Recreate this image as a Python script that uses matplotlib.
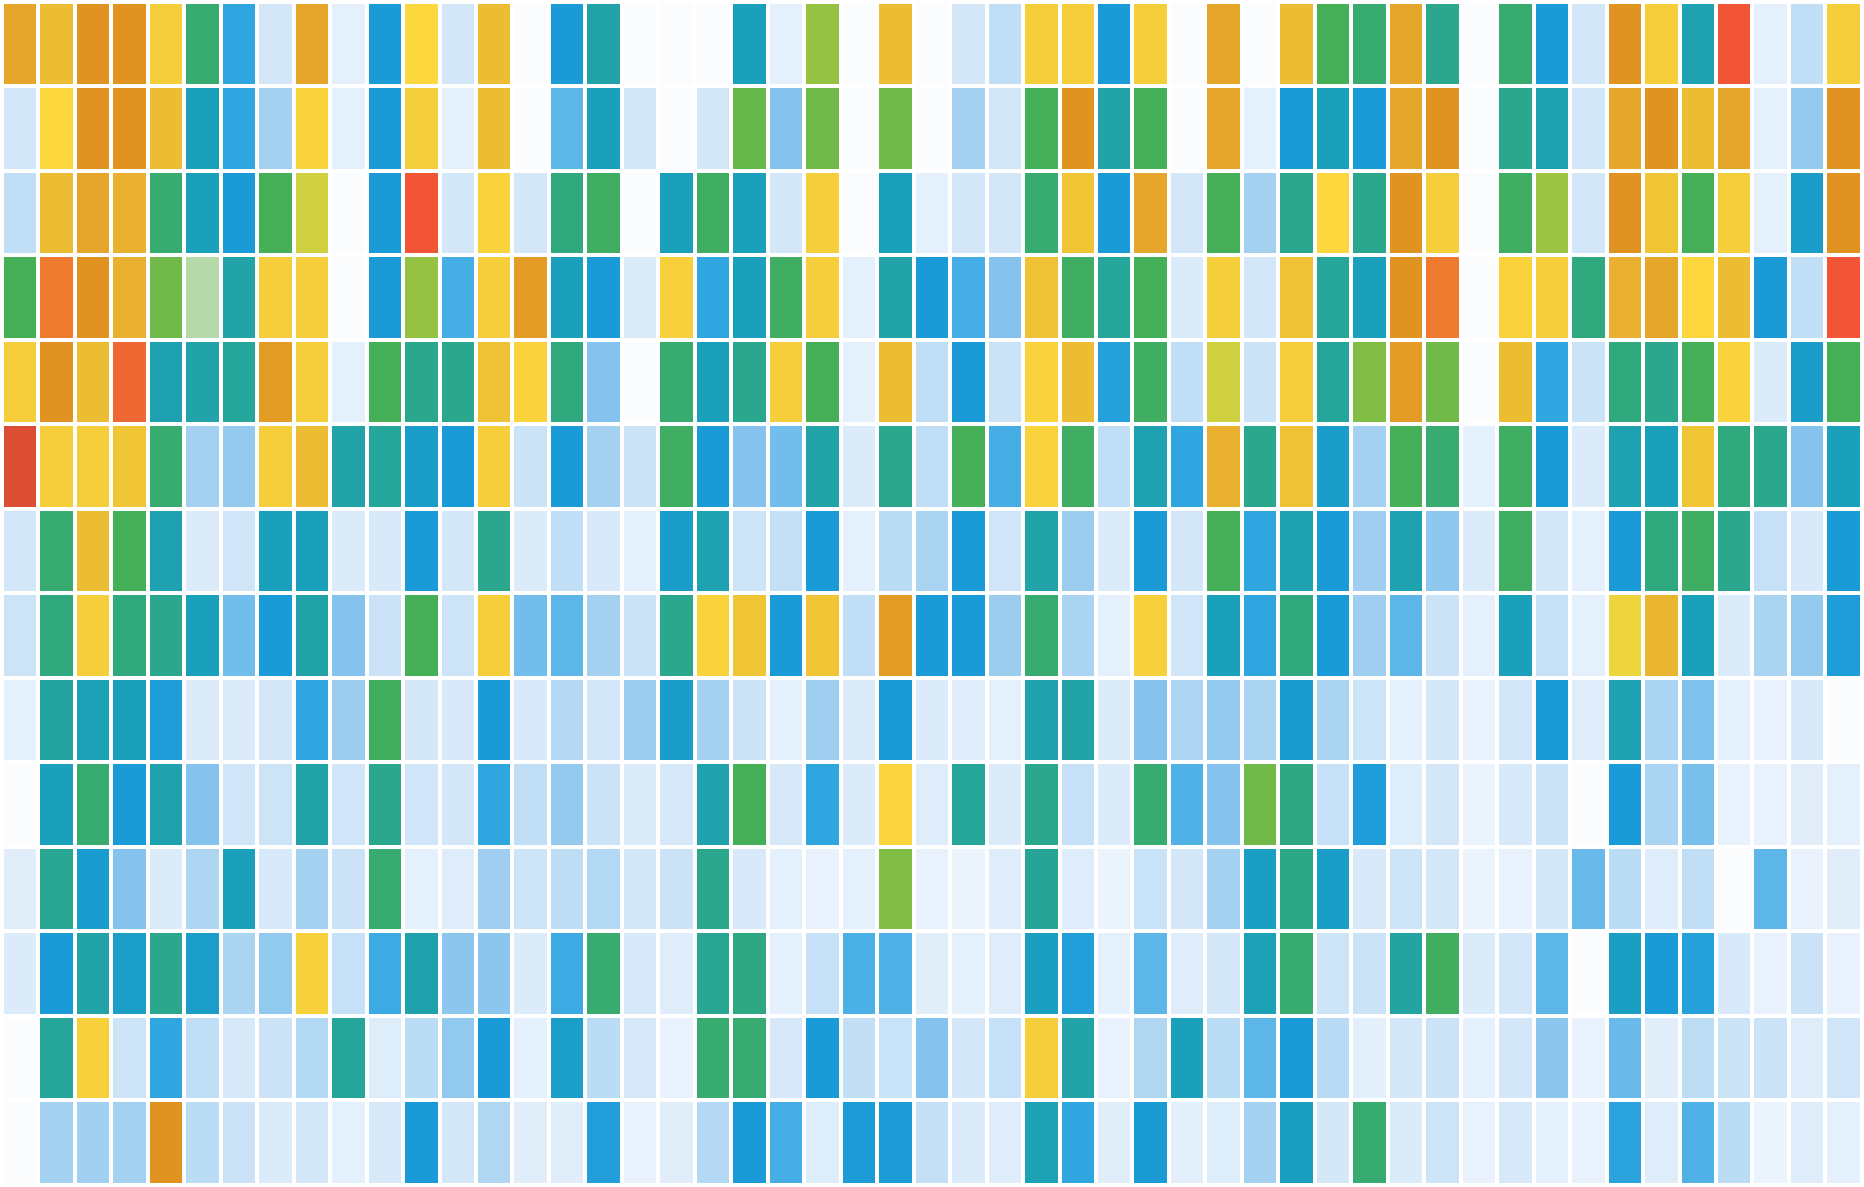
import numpy as np
import matplotlib
matplotlib.use("Agg")
import matplotlib.pyplot as plt
from matplotlib.colors import LinearSegmentedColormap

row01 = [19,18,20,20,17,12,7,2,19,1,8,16,2,18,0,8,10, 0,0,0,9,1,14.4,0,18,0,2,3,17,17,8,17,0,19, 0,18,13,12,19,11,0,12,8,2,20,17,9.5,22,1,3,17]
row02 = [2,16,20,20,18,9,7,4,16.5,1,8,17,1,18,0,6,9, 2,0,2,13.8,5,14,0,14,0,4,2,13,20,10,13,0,19, 1,8,9,8,19,20,0,11,9.5,2,19,20,18,19,1,4.5,20]
row03 = [3,18,19,18.5,12,9,8,13,15,0,8,22,2,16.5,2,11.5,12.5, 0,9,12.5,9,2,17,0,9,1,2,2,12,17.5,8,19,2,13, 4,11,16,11,20,17,0,12.5,14.5,2,20,17.5,13,17,1,8.5,20]
row04 = [13,21,20,18.5,14,24,10,17,17,0,8,14.4,6.5,17,19.5,9,8, 1.5,16.7,7,9,12.5,17,1,10,8,6.5,5,17.7,12.5,10.5,13,1.5,17, 2,17.7,10.5,9,20,21,0,16.5,17,11.5,18.5,19,16,18,8,3,22]
row05 = [17,20,18,21.5,9.5,10,10.5,19.5,17,1,13,11,11,17.7,16.5,11.5,5, 0,12,9,11,17,13,1,18,3,8,2.5,16.5,18,7.5,12.5,3,15, 2.5,17,10.5,14.2,19.5,14,0,18,7,2.5,11.5,11,13,16.5,1.5,8.5,13]
row06 = [23,17,17,17.5,12,4,4.5,17,18,10,10.5,8.5,8,17,2.5,8,4, 2.5,12.5,8,5,5.5,10,1.5,11,3,13,6.5,16.5,12.5,3,9.5,7,18.5, 11,17.7,8.5,4,13,12,1,12.5,8,1.5,9.5,9,17.5,11.5,11,5,9]
row07 = [2,12,18,13,9.5,1.5,2.2,9,9,1.5,1.7,8,2,11,1.5,3,1.7, 1,8.5,9.5,2.3,2.8,8,1,3.2,3.8,8,2.2,10,4.3,1.5,8,2,13, 7,9.5,8,4.2,9.5,4.7,1.5,12.5,2,1,8,11.5,12.5,11,2.7,1.7,8]
row08 = [2.3,11.5,17,11.5,11,9,5.5,8,10,5,2.4,13,2.3,17,5.5,6,4, 2.5,11,16.5,17.5,8,17.5,3,19.5,8,8,4.3,12,3.8,1,16.8,2.2,9, 7,11.5,8,4.2,6,2.4,1,9,2.7,1,15.7,18.3,9,1.5,3.8,4.5,7.8]
row09 = [1,10.3,9.3,9,7.8,1.5,1.5,2,7,4.3,12.7,2,1.7,8,1.7,3.4,2, 4.3,8.5,4,2.5,1,4.2,1.5,8,1.5,1.3,1,9.7,10,1.5,5,3.7,4.5, 3.8,8.3,3.8,2.3,1,2,0.8,2,8,1.3,9.5,3.8,5.2,1,0.8,1.7,0]
row10 = [0,9,12,8,9.7,5,2.2,2.3,10,2.2,11,2.2,2,7,3,4.5,2.4, 1.5,1.8,9.7,13,1.8,7,1.5,16.3,1.3,10.5,1.5,11,2.7,1.5,12,6.3,5, 14,11.3,2.7,7.8,1.4,2,0.7,1.7,2.5,0,8,3.8,5.3,0.8,0.8,1.2,1]
row11 = [1.2,10.8,8.3,5,1.5,3.7,9,1.7,4,2.4,12,1,1.3,4.2,2.3,3.1,3.5, 2,2.4,11,1.7,1,0.8,1,14.2,0.8,0.7,1.3,10.6,1.3,0.7,2.6,2,4, 8.7,11.2,8.5,1.7,2.3,2,0.7,0.8,2,5.7,3.2,1.3,3,0,6,0.8,1.2]
row12 = [1.5,8,10,8.6,11,8.6,3.8,4.6,16.8,2.7,6.7,9.8,4.8,4.8,1.5,6.7,12, 1.8,1.3,10.8,11.3,1,2.7,6.4,6.3,1.2,1,1.3,8.8,7.6,1,6,1.3,2, 9.3,12,2.3,2.5,10.3,12.7,1.6,2,6,0,8.7,8,7.5,1.7,0.8,2.4,0.8]
row13 = [0,10.5,16.7,2.3,7,3,1.8,2.4,3.5,10.5,1.4,3.2,4.6,8,1,8.6,3.2, 1.8,0.8,12,12,1.8,8,2.9,2.6,5,2,2.7,17,10,0.8,3.6,9,3.2, 6,8,3.3,1.1,2,2.4,1,2,4.8,0.8,5.7,1.2,3.1,2.5,2.4,1.3,2.2]
row14 = [0,4,4.1,4,20,3.2,2.4,1.5,2,1,1.8,8,2,3.6,1.2,1.2,7.6, 0.8,1.2,3.4,8,6.5,1.4,7.9,7.9,2.8,1.5,1.3,9.4,7,1.2,8.1,1.1,1.4, 4,8.8,1.9,12,1.6,2.3,0.8,1.8,1,0.8,7.2,1.3,6.3,3.2,0.7,1.3,1]

rows = [row01,row02,row03,row04,row05,row06,row07,row08,row09,row10,row11,row12,row13,row14]
data = np.array(rows, dtype=float)

stops = ["#fbfcfe","#e4f0fb","#d3e7f8","#c0def6","#a5d1f0","#85c3ee","#5db6e8","#2fa6e0",
         "#1a9ad6","#1ba0bc","#21a3a8","#2aa78c","#38ab70","#45b057","#70b948","#cdd03f",
         "#fcd73e","#f5cf3b","#ecbd33","#e6a62b","#e19322","#ed7b2d","#f15536","#dc4c32","#b5d9a8"]
cmap = LinearSegmentedColormap.from_list("heat", [(i/24, c) for i, c in enumerate(stops)], N=1024)

W, H = 1865, 1187
fig = plt.figure(figsize=(W/100, H/100), dpi=100, facecolor="white")
x0, x1, y0, y1 = 1.9, 1861.9, 1.6, 1184.6
ax = fig.add_axes([x0/W, 1-y1/H, (x1-x0)/W, (y1-y0)/H])
ax.pcolormesh(np.arange(data.shape[1]+1), np.arange(data.shape[0]+1), data,
              cmap=cmap, vmin=0, vmax=24, edgecolors="white", linewidth=2.7)
ax.set_ylim(data.shape[0], 0)
ax.set_axis_off()
fig.savefig("out.png", dpi=100, facecolor="white")
